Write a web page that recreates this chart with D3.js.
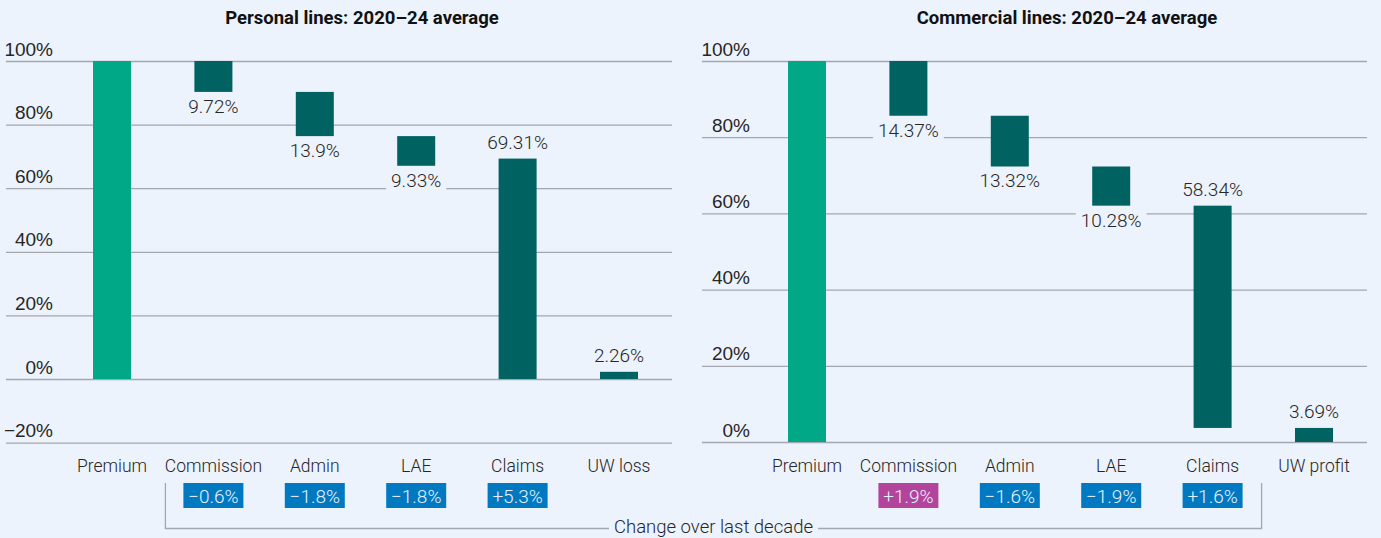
<!DOCTYPE html>
<html>
<head>
<meta charset="utf-8">
<script src="https://cdn.jsdelivr.net/npm/d3@7"></script>
<style>
  html, body { margin: 0; padding: 0; background: #edf3fc; }
  svg { display: block; font-family: Roboto, "Liberation Sans", sans-serif; }
</style>
</head>
<body>
<script>
// personal lines, 2020-24 average (% of premium)
var personalCats = ["Premium", "Commission", "Admin", "LAE", "Claims", "UW loss"];
var personalValues = [100, 9.72, 13.9, 9.33, 69.31, 2.26];
var personalTop = [100, 100, 90.28, 76.38, 69.31, 2.26];
var personalBase = [0, 90.28, 76.38, 67.05, 0, 0];
var personalChange = [null, -0.6, -1.8, -1.8, 5.3, null];
var personalTicks = [-20, 0, 20, 40, 60, 80, 100];

// commercial lines, 2020-24 average
var commercialCats = ["Premium", "Commission", "Admin", "LAE", "Claims", "UW profit"];
var commercialValues = [100, 14.37, 13.32, 10.28, 58.34, 3.69];
var commercialTop = [100, 100, 85.63, 72.31, 62.03, 3.69];
var commercialBase = [0, 85.63, 72.31, 62.03, 3.69, 0];
var commercialChange = [null, 1.9, -1.6, -1.9, 1.6, null];
var commercialTicks = [0, 20, 40, 60, 80, 100];
var commercialHighlight = ["Commission"];

var width = 1381;
var height = 538;
var bg = "#edf3fc";
var gridColor = "#a4a7ae";
var textColor = "#262626";

var svg = d3.select("body").append("svg")
            .attr("width", width)
            .attr("height", height);

function fmtPct(d){ return (d < 0 ? "\u2212" : "") + Math.abs(d) + "%"; }
function fmtChange(d){ return (d < 0 ? "\u2212" : "+") + Math.abs(d) + "%"; }

function drawPanel(opt){
  var y = d3.scaleLinear().domain(opt.yDomain).range(opt.yRange);
  var x = d3.scalePoint().domain(opt.cats).range(opt.xRange);
  var barW = 38;

  var g = svg.append("g");

  // gridlines + tick labels
  var axis = g.append("g")
              .attr("transform", "translate(" + opt.gridX[0] + ",0)")
              .call(d3.axisLeft(y)
                      .tickValues(opt.ticks)
                      .tickSize(-(opt.gridX[1] - opt.gridX[0]))
                      .tickFormat(fmtPct));
  axis.select(".domain").remove();
  axis.selectAll(".tick line").attr("stroke", gridColor).attr("stroke-width", 1.3);
  axis.selectAll(".tick text")
      .attr("x", opt.labelX - opt.gridX[0])
      .attr("dy", -6)
      .attr("fill", textColor)
      .attr("font-size", 19)
      .attr("font-weight", 300)
      .attr("text-anchor", "end");

  // title
  g.append("text")
   .attr("x", opt.titleX)
   .attr("y", 24)
   .attr("text-anchor", "middle")
   .attr("font-size", 18.5)
   .attr("font-weight", 700)
   .attr("fill", "#111")
   .text(opt.title);

  var rows = opt.cats.map(function(c, i){
    return {cat: c, top: opt.top[i], base: opt.base[i], value: opt.values[i],
            change: opt.change[i], index: i};
  });

  g.selectAll("rect.bar")
   .data(rows)
   .enter().append("rect")
   .attr("class", "bar")
   .attr("x", function(d){ return x(d.cat) - barW / 2; })
   .attr("y", function(d){ return y(d.top); })
   .attr("width", barW)
   .attr("height", function(d){ return y(d.base) - y(d.top); })
   .attr("fill", function(d){ return d.index === 0 ? "#00a887" : "#006361"; });

  // value labels, with a patch of background behind them
  var labels = rows.filter(function(d){ return d.index > 0; });
  var lab = g.selectAll("g.vlab")
             .data(labels)
             .enter().append("g")
             .attr("class", "vlab");
  lab.append("text")
     .attr("x", function(d){ return x(d.cat); })
     .attr("y", function(d){
       return d.index >= 4 ? y(d.top) - 10 : y(d.base) + 21;
     })
     .attr("text-anchor", "middle")
     .attr("font-size", 19)
     .attr("font-weight", 300)
     .attr("fill", textColor)
     .text(function(d){ return d.value + "%"; });
  lab.each(function(){
    var t = d3.select(this).select("text");
    var b = t.node().getBBox();
    d3.select(this).insert("rect", "text")
      .attr("x", b.x - 5).attr("y", b.y)
      .attr("width", b.width + 10).attr("height", b.height)
      .attr("fill", bg);
  });

  // category labels
  g.selectAll("text.cat")
   .data(rows)
   .enter().append("text")
   .attr("class", "cat")
   .attr("x", function(d){ return x(d.cat); })
   .attr("y", 472)
   .attr("text-anchor", "middle")
   .attr("font-size", 17.5)
   .attr("font-weight", 300)
   .attr("fill", textColor)
   .text(function(d){ return d.cat; });

  // change badges
  var badge = g.selectAll("g.badge")
               .data(rows.filter(function(d){ return d.change !== null; }))
               .enter().append("g")
               .attr("class", "badge");
  badge.append("rect")
       .attr("x", function(d){ return x(d.cat) - 30; })
       .attr("y", 483)
       .attr("width", 60)
       .attr("height", 25)
       .attr("fill", function(d){
         return opt.highlight.indexOf(d.cat) >= 0 ? "#b2449b" : "#0079c1";
       });
  badge.append("text")
       .attr("x", function(d){ return x(d.cat); })
       .attr("y", 502.5)
       .attr("text-anchor", "middle")
       .attr("font-size", 19)
       .attr("font-weight", 300)
       .attr("fill", "#e6f1ff")
       .text(function(d){ return fmtChange(d.change); });

  return x;
}

var xL = drawPanel({
  cats: personalCats, values: personalValues, top: personalTop, base: personalBase,
  change: personalChange, ticks: personalTicks, highlight: [],
  yDomain: [-20, 100], yRange: [442.6, 61], xRange: [112, 619],
  gridX: [6, 672], labelX: 53, titleX: 362,
  title: "Personal lines: 2020\u201324 average"
});

var xR = drawPanel({
  cats: commercialCats, values: commercialValues, top: commercialTop, base: commercialBase,
  change: commercialChange, ticks: commercialTicks, highlight: commercialHighlight,
  yDomain: [0, 100], yRange: [442, 61], xRange: [807, 1314],
  gridX: [702, 1367], labelX: 750, titleX: 1067,
  title: "Commercial lines: 2020\u201324 average"
});

// bracket: "Change over last decade"
var bx0 = xL("Commission") - 48;
var bx1 = xR("Claims") + 49;
var bTop = 483, bY = 528.5;
var bracket = svg.append("g");
bracket.append("path")
       .attr("d", "M" + bx0 + "," + bTop + "V" + bY + "H" + bx1 + "V" + bTop)
       .attr("fill", "none")
       .attr("stroke", gridColor)
       .attr("stroke-width", 1.3);
var bt = bracket.append("text")
       .attr("x", (bx0 + bx1) / 2)
       .attr("y", bY + 4.5)
       .attr("text-anchor", "middle")
       .attr("font-size", 18.5)
       .attr("font-weight", 300)
       .attr("fill", textColor)
       .text("Change over last decade");
var bb = bt.node().getBBox();
bracket.insert("rect", "text")
       .attr("x", bb.x - 5).attr("y", bY - 3)
       .attr("width", bb.width + 10).attr("height", 6)
       .attr("fill", bg);
</script>
</body>
</html>
